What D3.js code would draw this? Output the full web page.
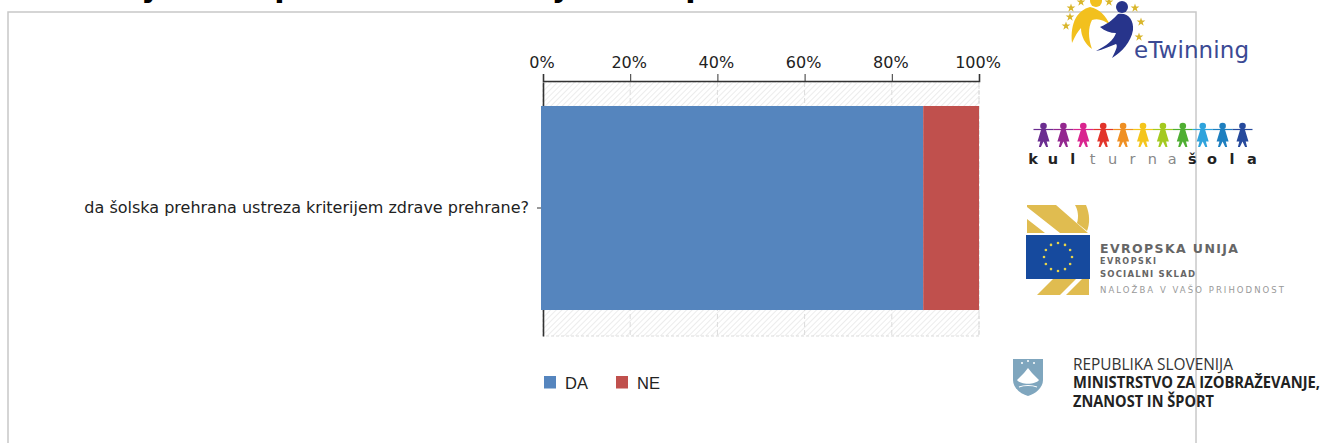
<!DOCTYPE html>
<html>
<head>
<meta charset="utf-8">
<script src="https://cdn.jsdelivr.net/npm/d3@7"></script>
<style>
html, body { margin: 0; padding: 0; background: #fff; overflow: hidden; }
text { font-family: "DejaVu Sans", sans-serif; }
</style>
</head>
<body>
<div id="chart"></div>
<script>
const categories = ["da šolska prehrana ustreza kriterijem zdrave prehrane?"];
const seriesNames = ["DA", "NE"];
const seriesColors = ["#5585BE", "#C0504D"];
const valuesDA = [87.2];
const valuesNE = [12.8];
const tickValues = [0, 20, 40, 60, 80, 100];

const svg = d3.select("#chart").append("svg")
    .attr("width", 1321)
    .attr("height", 443);

const defs = svg.append("defs");
const hatch = defs.append("pattern")
    .attr("id", "hatch")
    .attr("width", 4).attr("height", 4)
    .attr("patternUnits", "userSpaceOnUse")
    .attr("patternTransform", "rotate(45)");
hatch.append("rect").attr("width", 4).attr("height", 4).attr("fill", "#fff");
hatch.append("line").attr("x1", 0).attr("y1", 0).attr("x2", 0).attr("y2", 4)
    .attr("stroke", "#e8e8e8").attr("stroke-width", 1.6);

// slide title, only the descenders show above the top edge
svg.selectAll(".cut").data([["y", 151], ["p", 285], ["j", 561], ["p", 696]]).enter().append("text")
    .attr("class", "cut")
    .attr("x", d => d[1]).attr("y", -3)
    .attr("font-size", 30).attr("font-weight", "bold").attr("text-anchor", "middle")
    .text(d => d[0]);

// frame
svg.append("rect")
    .attr("x", 8).attr("y", 12)
    .attr("width", 1188).attr("height", 460)
    .attr("fill", "none").attr("stroke", "#c8c8c8").attr("stroke-width", 1.5);

const x = d3.scaleLinear().domain([0, 100]).range([543, 979]);
const y = d3.scaleBand().domain(categories).range([82, 336]).paddingInner(0).paddingOuter(0.1225).align(0.48);

// plot background
svg.append("rect")
    .attr("x", x(0)).attr("y", 82)
    .attr("width", x(100) - x(0)).attr("height", 254)
    .attr("fill", "url(#hatch)")
    .attr("stroke", "#dcdcdc").attr("stroke-dasharray", "3,2");

svg.selectAll(".grid").data(tickValues.slice(1)).enter().append("line")
    .attr("class", "grid")
    .attr("x1", d => x(d)).attr("x2", d => x(d))
    .attr("y1", 82).attr("y2", 336)
    .attr("stroke", "#dcdcdc").attr("stroke-dasharray", "5,3");

// category axis, goes under the bar
const axisLeft = svg.append("g")
    .attr("transform", "translate(543,0)")
    .call(d3.axisLeft(y).tickSize(6).tickSizeOuter(0).tickPadding(8));
axisLeft.select(".domain").attr("stroke", "#333").attr("stroke-width", 1.6);
axisLeft.selectAll(".tick line").attr("stroke", "#333");
axisLeft.selectAll("text").attr("font-size", 16).attr("fill", "#222");

// stacked bars
const rows = categories.map((c, i) => ({ cat: c, DA: valuesDA[i], NE: valuesNE[i] }));
const stacked = d3.stack().keys(seriesNames)(rows);
svg.selectAll(".serie").data(stacked).enter().append("g")
    .attr("class", "serie")
    .attr("fill", (d, i) => seriesColors[i])
    .selectAll("rect").data(d => d).enter().append("rect")
    .attr("x", d => x(d[0]) - (d[0] === 0 ? 2 : 0))
    .attr("y", d => y(d.data.cat))
    .attr("width", d => x(d[1]) - x(d[0]) + (d[0] === 0 ? 2 : 0))
    .attr("height", y.bandwidth());

// top axis
const axisTop = svg.append("g")
    .attr("transform", "translate(0,81)")
    .call(d3.axisTop(x).tickValues(tickValues).tickFormat(d => d + "%").tickSize(7).tickPadding(6));
axisTop.select(".domain").attr("stroke", "#333").attr("stroke-width", 1.6);
axisTop.selectAll(".tick line").attr("stroke", "#333");
axisTop.selectAll("text").attr("font-size", 16).attr("fill", "#222").attr("dx", -1.5);

// legend
const legend = svg.selectAll(".leg").data(seriesNames).enter().append("g")
    .attr("class", "leg")
    .attr("transform", (d, i) => `translate(${544 + i * 72},376)`);
legend.append("rect").attr("width", 12).attr("height", 12.5).attr("fill", (d, i) => seriesColors[i]);
legend.append("text").attr("x", 21).attr("y", 12.5)
    .attr("font-size", 16.5).attr("fill", "#222")
    .style("font-family", "'Liberation Sans', sans-serif").text(d => d);

// eTwinning logo
const logos = svg.append("g");
logos.append("circle").attr("cx", 1096).attr("cy", 1).attr("r", 6).attr("fill", "#F2C01E");
logos.append("path").attr("d", "M1090 7 C1078 10 1070 22 1072 43 C1075 36 1078 31 1081 28 C1081 36 1085 44 1092 49 C1088 38 1088 28 1092 20 C1098 18 1104 20 1110 25 C1106 16 1100 9 1090 7Z").attr("fill", "#F2C01E");
logos.append("circle").attr("cx", 1122).attr("cy", 7).attr("r", 6).attr("fill", "#27348B");
logos.append("path").attr("d", "M1100 27 C1110 23 1114 18 1118 14 C1128 12 1134 20 1133 30 C1131 42 1122 52 1112 58 C1116 50 1118 46 1116 44 C1108 47 1102 50 1096 51 C1106 46 1114 40 1116 33 C1110 33 1105 31 1100 27Z").attr("fill", "#27348B");
logos.selectAll(".star").data([[1066, 26], [1070, 17], [1071, 8], [1081, 2], [1109, 2], [1135, 8], [1141, 22], [1139, 37]]).enter().append("path")
    .attr("class", "star")
    .attr("d", d3.symbol(d3.symbolStar, 24))
    .attr("transform", d => `translate(${d[0]},${d[1]})`)
    .attr("fill", "#D9B62C");
logos.append("text").attr("x", 1134).attr("y", 58)
    .attr("font-size", 23).attr("fill", "#3B4A94").attr("textLength", 115).text("eTwinning");

// kulturna šola logo
const peopleColors = ["#6B2D90", "#93278F", "#D9258F", "#E2342B", "#EF8F22", "#F4C51C", "#A4C91F", "#4FAE32", "#2FA3DC", "#1E7FBF", "#264A9C"];
const people = logos.selectAll(".person").data(peopleColors).enter().append("g")
    .attr("class", "person")
    .attr("transform", (d, i) => `translate(${1043.5 + i * 19.9},0)`)
    .attr("fill", d => d).attr("stroke", d => d);
people.append("line").attr("x1", -10).attr("x2", 10).attr("y1", 129.5).attr("y2", 129.5).attr("stroke-width", 1.2);
people.append("circle").attr("cx", 0).attr("cy", 126).attr("r", 3.3).attr("stroke", "none");
people.append("path").attr("d", "M-2.2 129 L2.2 129 L6 141.5 L3.2 141.5 L4.6 147 L2.6 147 L0 141.5 L-2.6 147 L-4.6 147 L-3.2 141.5 L-6 141.5Z").attr("stroke", "none");
const schoolLetters = "kulturnašola".split("");
logos.selectAll(".sola").data(schoolLetters).enter().append("text")
    .attr("class", "sola")
    .attr("x", (d, i) => 1033 + i * 19.9)
    .attr("y", 163.5)
    .attr("font-size", 14.5).attr("text-anchor", "middle")
    .attr("font-weight", (d, i) => (i < 3 || i > 7) ? "bold" : "normal")
    .attr("fill", (d, i) => (i < 3 || i > 7) ? "#222" : "#888")
    .text(d => d);

// EU logo
logos.append("path").attr("d", "M1027 205 L1056 205 L1088 233 L1060 233 L1027 207Z M1075 205 L1086 205 C1090 214 1090 224 1087 231 L1077 223 C1079 217 1078 210 1075 205Z M1027 219 L1045 233 L1027 233Z").attr("fill", "#E0BC50");
logos.append("path").attr("d", "M1037 295 L1053 279 L1076 279 L1060 295Z M1066 295 L1082 279 L1089 279 L1089 295Z").attr("fill", "#E0BC50");
logos.append("rect").attr("x", 1026).attr("y", 235).attr("width", 64).attr("height", 44).attr("fill", "#164A9E");
const euStars = d3.range(12).map(i => i * 30);
logos.selectAll(".eu").data(euStars).enter().append("circle")
    .attr("class", "eu")
    .attr("cx", d => 1058 + 14 * Math.sin(d * Math.PI / 180))
    .attr("cy", d => 257 - 14 * Math.cos(d * Math.PI / 180))
    .attr("r", 1.3).attr("fill", "#E8D44A");
const euLines = [
    ["EVROPSKA UNIJA", 1100, 253, 12.5, 138, "#666", "bold"],
    ["EVROPSKI", 1100, 264, 8, 56, "#666", "bold"],
    ["SOCIALNI SKLAD", 1100, 277, 8.5, 95, "#666", "bold"],
    ["NALOŽBA V VAŠO PRIHODNOST", 1100, 293, 8.5, 184, "#999", "normal"]
];
logos.selectAll(".eutext").data(euLines).enter().append("text")
    .attr("class", "eutext")
    .attr("x", d => d[1]).attr("y", d => d[2])
    .attr("font-size", d => d[3]).attr("fill", d => d[5])
    .attr("font-weight", d => d[6])
    .attr("textLength", d => d[4]).attr("lengthAdjust", "spacing")
    .text(d => d[0]);

// ministry logo
logos.append("path").attr("d", "M1013 359 L1043 359 L1043 380 C1043 388 1035 394 1028 396 C1021 394 1013 388 1013 380Z").attr("fill", "#7FA6BE");
logos.append("path").attr("d", "M1017 380 L1024 373 L1028 368 L1032 373 L1039 380 C1035 385 1021 385 1017 380Z").attr("fill", "#fff");
logos.append("path").attr("d", "M1019 387 C1024 385 1032 385 1037 387").attr("fill", "none").attr("stroke", "#fff").attr("stroke-width", 1.2);
logos.selectAll(".shieldstar").data([[1022, 363], [1034, 363], [1028, 361]]).enter().append("circle")
    .attr("class", "shieldstar")
    .attr("cx", d => d[0]).attr("cy", d => d[1]).attr("r", 1).attr("fill", "#fff");
const minLines = [
    ["REPUBLIKA SLOVENIJA", 1073, 370, "normal", "#333", 160],
    ["MINISTRSTVO ZA IZOBRAŽEVANJE,", 1073, 388, "bold", "#222", 247],
    ["ZNANOST IN ŠPORT", 1073, 407, "bold", "#222", 141]
];
logos.selectAll(".mintext").data(minLines).enter().append("text")
    .attr("class", "mintext")
    .attr("x", d => d[1]).attr("y", d => d[2])
    .attr("font-size", 16).attr("font-weight", d => d[3]).attr("fill", d => d[4])
    .style("font-family", "'Open Sans', sans-serif")
    .attr("textLength", d => d[5]).attr("lengthAdjust", "spacingAndGlyphs")
    .text(d => d[0]);
</script>
</body>
</html>
